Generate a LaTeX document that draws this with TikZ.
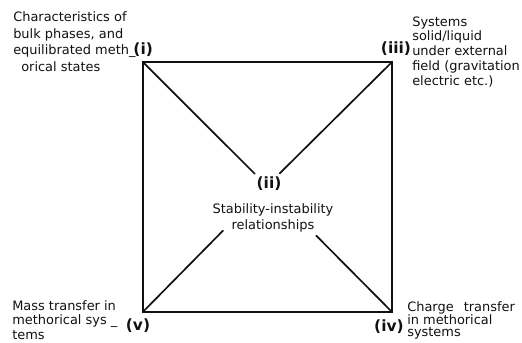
\documentclass[tikz,border=0pt]{standalone}
\usepackage{fontspec}
\setmainfont{DejaVu Sans}
\definecolor{ink}{HTML}{111111}
\usetikzlibrary{positioning, calc}
\tikzset{
  note/.style={
    font=\fontsize{9.2}{#1}\selectfont, text=ink,
    align=left, anchor=north west, inner sep=0pt
  },
  note/.default=10.5pt,
  tag/.style={font=\fontsize{11}{12}\selectfont\bfseries, text=ink, inner sep=0pt},
  edge/.style={draw=ink, line width=1.2pt, line cap=round},
}
\begin{document}
\begin{tikzpicture}
    \useasboundingbox (0,0) rectangle (13.05,8.575);

    % corners of the square and its middle
    \coordinate (tl) at (3.57,7.025);
    \coordinate (tr) at (9.8,7.025);
    \coordinate (bl) at (3.57,0.775);
    \coordinate (br) at (9.8,0.775);
    \coordinate (c) at (6.675,3.925);

    \draw[edge] (tl) rectangle (br);
    \draw[edge, shorten >=0.43cm] (tl) -- (c);
    \draw[edge, shorten >=0.45cm] (tr) -- (c);
    \draw[edge, shorten >=1.57cm] (bl) -- (c);
    \draw[edge, shorten >=1.75cm] (br) -- (c);

    % roman labels
    \node[tag] (i) at (3.58,7.325) {(i)};
    \node[tag] (ii) at (6.725,3.975) {(ii)};
    \node[tag] (iii) at (9.9,7.35) {(iii)};
    \node[tag] (iv) at (9.725,0.4) {(iv)};
    \node[tag] (v) at (3.45,0.425) {(v)};

    % texts
    \node[note=11.8pt] (bulk) at (0.325,8.29)
      {Characteristics of\\bulk phases, and\\equilibrated meth\_\\\hspace{0.2cm}orical states};
    \node[note=10.5pt] (field) at (10.3,8.17)
      {Systems\\solid/liquid\\under external\\field (gravitation\\electric etc.)};
    \node[note=10.4pt] (mass) at (0.3,1.07)
      {Mass transfer in\\methorical sys \_\\tems};
    \node[note=9.2pt] (charge) at (10.175,1.05)
      {Charge\hspace{0.15cm} transfer\\in methorical\\systems};
    \node[note=11pt, align=center, anchor=north] (rel) at (6.825,3.48)
      {Stability-instability\\relationships};
  \end{tikzpicture}
\end{document}
